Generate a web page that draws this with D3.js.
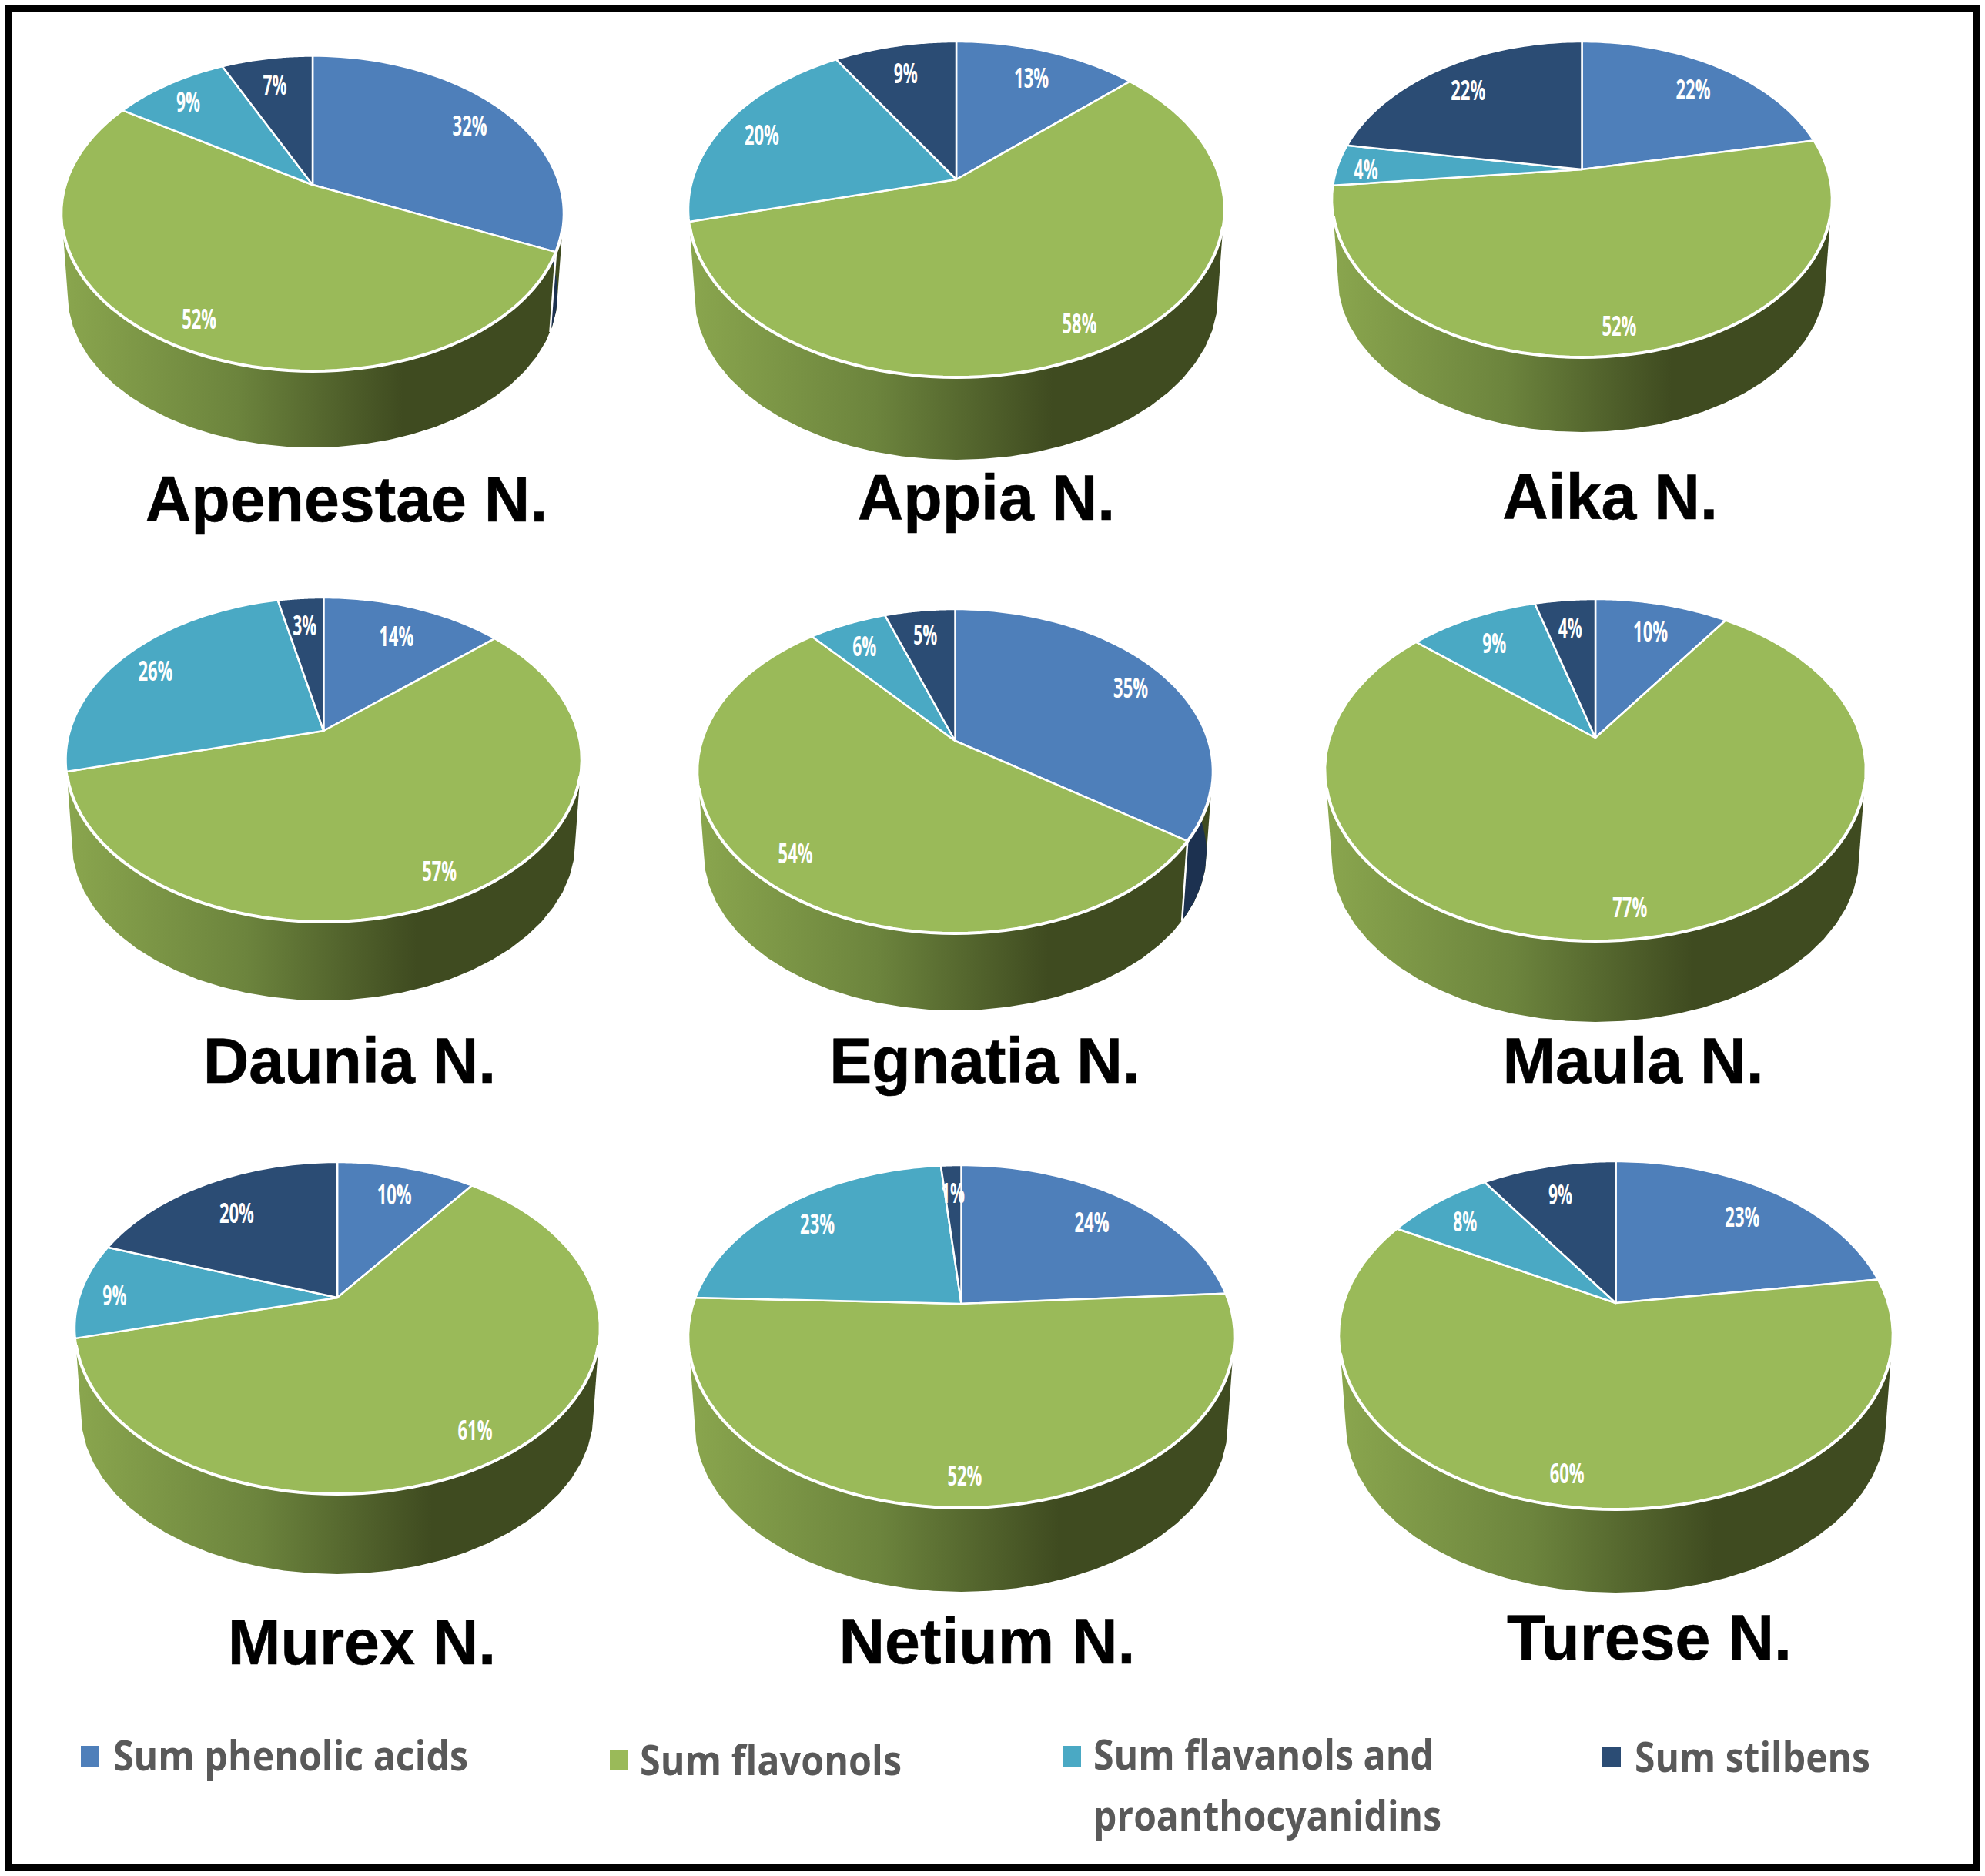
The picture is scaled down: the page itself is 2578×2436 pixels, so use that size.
<!DOCTYPE html>
<html><head><meta charset="utf-8">
<script src="https://cdn.jsdelivr.net/npm/d3@7/dist/d3.min.js"></script>
<style>html,body{margin:0;padding:0;background:#fff}svg{display:block}</style>
</head><body><div id="chart"></div>
<script>
const categories = ["Sum phenolic acids","Sum flavonols","Sum flavanols and proanthocyanidins","Sum stilbens"];
const pieNames = ["Apenestae N.","Appia N.","Aika N.","Daunia N.","Egnatia N.","Maula N.","Murex N.","Netium N.","Turese N."];
const phenolic  = [31.7,13.2,21.85,13.6,34.7, 9.6,10.2,24.0,22.7];
const flavonols = [52.3,57.8,51.5,57.4,54.1,76.7,60.9,51.6,60.3];
const flavanols = [ 9.0,20.2, 4.25,25.6, 5.9,9.35, 9.3,22.95,7.6];
const stilbens  = [ 7.0, 8.8,22.4, 3.4, 5.3,4.35,19.6,1.45, 9.4];
const colors = ["#4e7fba","#9aba59","#4aa9c4","#2b4c74"];
const wallColors = ["#1c3150",null,"#2b7288","#1c3150"];

// layout of each pie: ellipse left/right/top/bottom, apex height, lowest wall point
const geoLeft   = [80,894,1730,85.5,906,1721,97,894,1739];
const geoRight  = [732,1590,2379,755,1575,2423,779,1603,2458];
const geoTop    = [72.5,54,54,776,791,778,1509,1513,1508];
const geoBottom = [482,490,464,1197,1212,1222,1940,1958,1960];
const geoApex   = [240,233,220,949,962,958,1685,1693,1692];
const geoWall   = [581,597,561,1299,1312,1327,2044,2067,2068];
const titleX    = [450,1281,2091,454,1279,2121,470,1282,2142];
const titleY    = [677,675,674,1406,1406,1406,2161,2160,2155];
// radial position of the percentage labels, per category and per pie
const labelRadiusPhenolic  = [.82,.80,.80,.78,.84,.80,.80,.79,.79];
const labelRadiusFlavonols = [.84,.85,.85,.85,.83,.85,.84,.85,.85];
const labelRadiusFlavanols = [.85,.84,.885,.84,.82,.80,.87,.82,.83];
const labelRadiusStilbens  = [.80,.80,.80,.80,.82,.80,.75,.80,.80];

const W=2578,H=2436;
const svg=d3.select("#chart").append("svg").attr("width",W).attr("height",H).attr("viewBox",[0,0,W,H]);
svg.append("rect").attr("width",W).attr("height",H).attr("fill","#fff");
svg.append("rect").attr("x",10.5).attr("y",10.5).attr("width",2557).attr("height",2415)
  .attr("fill","none").attr("stroke","#000").attr("stroke-width",9);

const grad=svg.append("defs").append("linearGradient").attr("id","wallGreen").attr("gradientUnits","objectBoundingBox")
  .attr("x1",0).attr("x2",1).attr("y1",0).attr("y2",0);
grad.append("stop").attr("offset",0).attr("stop-color","#8aa64e");
grad.append("stop").attr("offset",0.35).attr("stop-color","#6c843d");
grad.append("stop").attr("offset",0.68).attr("stop-color","#3f4b20");
grad.append("stop").attr("offset",1).attr("stop-color","#3f4b20");

const pieGen=d3.pie().sort(null).startAngle(0).endAngle(2*Math.PI);
const line=d3.line();
const rad=d3.scaleLinear().domain([0,360]).range([0,2*Math.PI]);
const V1=rad(98), V2=rad(262); // front part of the wall that can be seen

pieNames.forEach((name,p)=>{
  const values=[phenolic[p],flavonols[p],flavanols[p],stilbens[p]];
  const radii=[labelRadiusPhenolic[p],labelRadiusFlavonols[p],labelRadiusFlavanols[p],labelRadiusStilbens[p]];
  const cx=(geoLeft[p]+geoRight[p])/2, rx=(geoRight[p]-geoLeft[p])/2;
  const cy=(geoTop[p]+geoBottom[p])/2, ry=(geoBottom[p]-geoTop[p])/2;
  const a=(geoApex[p]-cy)/ry;
  const rx2=rx*0.976, ry2=ry*0.97, cy2=geoWall[p]-ry2;
  const sx=d3.scaleLinear().domain([-1,1]).range([cx-rx,cx+rx]);
  const sy=d3.scaleLinear().domain([-1,1]).range([cy-ry,cy+ry]);
  const sx2=d3.scaleLinear().domain([-1,1]).range([cx-rx2,cx+rx2]);
  const sy2=d3.scaleLinear().domain([-1,1]).range([cy2-ry2,cy2+ry2]);
  // circle seen in perspective: the centre of the disc moves up inside the ellipse
  const flat=(t,r=1)=>{const x=r*Math.sin(t),y=-r*Math.cos(t),d=1+a*y;return [x*Math.sqrt(1-a*a)/d,(y+a)/d];};
  const top=(t,r=1)=>{const q=flat(t,r);return [sx(q[0]),sy(q[1])];};
  const phi=t=>{const q=flat(t);let f=Math.atan2(q[0],-q[1]);return f<0?f+2*Math.PI:f;};
  const eT=f=>[sx(Math.sin(f)),sy(-Math.cos(f))];
  const eB=f=>[sx2(Math.sin(f)),sy2(-Math.cos(f))];
  const samples=(a0,a1)=>d3.range(0,61).map(i=>a0+(a1-a0)*i/60);

  const g=svg.append("g").attr("class","pie");
  const all=samples(0,2*Math.PI);
  const hull=d3.polygonHull(all.map(eT).concat(all.map(eB)));
  g.append("path").attr("d",line(hull)+"Z").attr("fill","url(#wallGreen)");

  const arcs=pieGen(values);
  arcs.forEach((d,i)=>{
    if(!wallColors[i]) return;
    const f0=phi(d.startAngle), f1=d.endAngle>=2*Math.PI?2*Math.PI:phi(d.endAngle);
    const lo=Math.max(f0,V1), hi=Math.min(f1,V2);
    if(hi<=lo) return;
    const clipId="hull"+p+"_"+i;
    g.append("clipPath").attr("id",clipId).append("path").attr("d",line(hull)+"Z");
    const ext=samples(Math.min(lo,rad(60)),hi);
    g.append("path").attr("clip-path",`url(#${clipId})`)
      .attr("d",line(ext.map(eT).concat(ext.slice().reverse().map(eB)))+"Z").attr("fill",wallColors[i]);
    g.append("path").attr("d",line([eT(hi),eB(hi)])).attr("stroke","#fff").attr("stroke-width",2.5).attr("fill","none");
  });

  // top surface
  arcs.forEach((d,i)=>{
    const pts=[top(0,0)].concat(samples(d.startAngle,d.endAngle).map(t=>top(t)));
    g.append("path").attr("d",line(pts)+"Z").attr("fill",colors[i])
      .attr("stroke","#fff").attr("stroke-width",2.5).attr("stroke-linejoin","round");
  });
  // bright rim along the front edge
  g.append("path").attr("d",line(samples(rad(96),rad(264)).map(eT))).attr("fill","none").attr("stroke","#fff").attr("stroke-width",4);

  // labels
  arcs.forEach((d,i)=>{
    const q=top((d.startAngle+d.endAngle)/2,radii[i]);
    const label=Math.round(values[i])+"%";
    g.append("text").attr("x",q[0]).attr("y",q[1]+18).attr("text-anchor","middle")
      .attr("font-family","'Open Sans'").attr("font-weight",700).attr("font-size",35).attr("fill","#fff")
      .attr("textLength",label.length===3?45:31).attr("lengthAdjust","spacingAndGlyphs").text(label);
  });

  svg.append("text").attr("x",titleX[p]).attr("y",titleY[p]).attr("text-anchor","middle")
    .attr("font-family","'Liberation Sans'").attr("font-weight",700).attr("font-size",82.5).attr("fill","#000")
    .attr("stroke","#000").attr("stroke-width",0.6).text(name);
});

// legend
const legendSwatchX=[105,792,1380,2081];
const legendSwatchY=[2267,2272,2267,2268];
const legendLines=[["Sum phenolic acids"],["Sum flavonols"],["Sum flavanols and","proanthocyanidins"],["Sum stilbens"]];
const legendTextX=[147,831,1420,2123];
const legendBaseline=[2299,2305,2298,2301];
const legendWidths=[[461],[340],[442,452],[306]];
const lg=svg.append("g").attr("class","legend");
categories.forEach((c,i)=>{
  lg.append("rect").attr("x",legendSwatchX[i]).attr("y",legendSwatchY[i]).attr("width",24).attr("height",27).attr("fill",colors[i]);
  legendLines[i].forEach((t,j)=>{
    lg.append("text").attr("x",legendTextX[i]).attr("y",legendBaseline[i]+j*79)
      .attr("font-family","'Open Sans'").attr("font-weight",700).attr("font-size",54).attr("fill","#595959")
      .attr("textLength",legendWidths[i][j]).attr("lengthAdjust","spacingAndGlyphs").text(t);
  });
});
</script></body></html>
